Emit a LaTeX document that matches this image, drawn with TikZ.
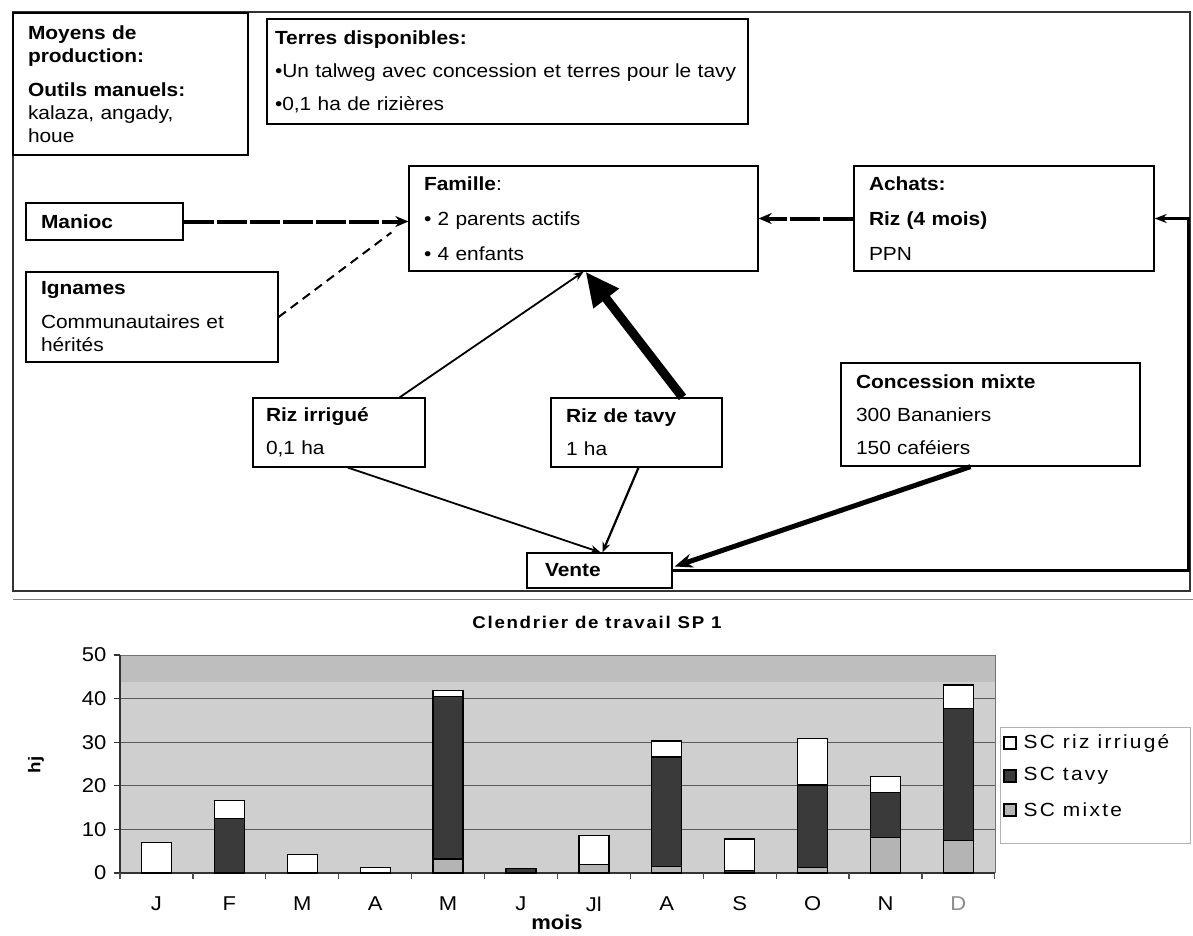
\documentclass[tikz,border=0pt]{standalone}
\usepackage{fontspec}
\setmainfont[FakeStretch=1.1]{Liberation Sans}
\usetikzlibrary{arrows.meta,calc}
\definecolor{tavy}{HTML}{3A3A3A}
\definecolor{mixte}{HTML}{B4B4B4}
\definecolor{fond}{HTML}{CFCFCF}
\definecolor{bande}{HTML}{BEBEBE}

\begin{document}
\begin{tikzpicture}[
    x=1pt, y=-1pt,
    font=\fontsize{19}{23}\selectfont,
    box/.style={draw, line width=1.3pt, align=left, inner xsep=15pt, inner ysep=0pt},
    flow/.style={-{Stealth[length=10pt, width=8pt]}, line width=1.8pt},
    flowdash/.style={-{Stealth[length=13pt, width=11pt]}, line width=4pt, dash pattern=on 30pt off 3pt},
    bar/.style={draw=black, line width=1.3pt},
    ticklabel/.style={font=\fontsize{20}{24}\selectfont},
    legendtext/.style={font=\fontsize{19}{23}\selectfont\addfontfeature{LetterSpace=12}, anchor=west}
]
\useasboundingbox (0,0) rectangle (1193,935);
\fill[white] (0,0) rectangle (1193,935);

% cadre du schema
\draw[line width=2pt, black!80] (13,12) rectangle (1190,591);
\draw[line width=1pt, black!50] (13,599) -- (1193,599);

\node[box, text width=205, minimum height=142] (moyens) at (130.5,84)
  {\textbf{Moyens de}\\\textbf{production:}\\[11pt]\textbf{Outils manuels:}\\kalaza, angady,\\houe};
\node[box, text width=465, inner xsep=8pt, minimum height=105] (terres) at (507.5,71.5)
  {\textbf{Terres disponibles:}\\[10pt]•Un talweg avec concession et terres pour le tavy\\[10pt]•0,1 ha de rizières};
\node[box, text width=127, minimum height=37] (manioc) at (104.5,221.5) {\textbf{Manioc}};
\node[box, text width=222, minimum height=90] (ignames) at (152,317)
  {\textbf{Ignames}\\[11pt]Communautaires et\\hérités};
\node[box, text width=319, minimum height=105] (famille) at (583.5,218.5)
  {\textbf{Famille}:\\[12pt]• 2 parents actifs\\[12pt]• 4 enfants};
\node[box, text width=270, minimum height=105] (achats) at (1004,218.5)
  {\textbf{Achats:}\\[12pt]\textbf{Riz (4 mois)}\\[12pt]PPN};
\node[box, text width=146, inner xsep=13pt, minimum height=69] (rizirr) at (339,432.5)
  {\textbf{Riz irrigué}\\[10pt]0,1 ha};
\node[box, text width=141, minimum height=69] (riztavy) at (636.5,432.5)
  {\textbf{Riz de tavy}\\[10pt]1 ha};
\node[box, text width=269, minimum height=103] (concession) at (990.5,414.5)
  {\textbf{Concession mixte}\\[10pt]300 Bananiers\\[10pt]150 caféiers};
\node[box, text width=109, inner xsep=18pt, minimum height=35] (vente) at (599.5,570.5) {\textbf{Vente}};

% flux
\draw[flowdash] (manioc.east) -- (manioc.east -| famille.west);
\draw[flowdash] (achats.west) -- (famille.east);
\draw[line width=2pt, dash pattern=on 9pt off 6pt] (ignames.east) -- ($(famille.west)+(-17,14)$);
\draw[flow] ($(rizirr.north west)!0.85!(rizirr.north east)$) -- (famille.south);
\draw[-{Triangle[length=34pt, width=30pt]}, line width=9pt] ($(riztavy.north)+(46,0)$) -- ($(famille.south)+(2,0)$);
\draw[flow] ($(rizirr.south)+(9,0)$) -- ($(vente.north)+(1,0)$);
\draw[flow, line width=2.2pt] ($(riztavy.south)+(2,0)$) -- ($(vente.north)+(3,0)$);
\draw[-{Stealth[length=18pt, width=14pt]}, line width=5pt] ($(concession.south)+(-20,0)$) -- ($(vente.east)+(2,-4)$);
\draw[-{Stealth[length=12pt, width=9pt]}, line width=3.5pt] (vente.east) -| ($(achats.east)+(34,0)$) -- (achats.east);

% calendrier de travail
\node[font=\bfseries\fontsize{17}{20}\selectfont\addfontfeature{LetterSpace=10}] (titre) at (597,622) {Clendrier de travail SP 1};
\node[rotate=90, font=\bfseries\fontsize{17}{20}\selectfont] (hj) at (36,765) {hj};
\node[font=\bfseries\fontsize{20}{24}\selectfont] (mois) at (557,922) {mois};

\begin{scope}[shift={(120,873)}, yscale=-4.36]
  \fill[fond] (0,0) rectangle (875,50);
  \fill[bande] (0,43.7) rectangle (875,50);
  \foreach \v in {10,20,30,40}
    \draw[line width=1.2pt, black!65] (0,\v) -- (875,\v);
  \draw[line width=1pt, black!55] (0,50) -- (875,50) -- (875,0);
  \draw[line width=1.4pt, black!80] (0,50) -- (0,0) -- (875,0);
  \foreach \v in {0,10,...,50} {
    \draw[line width=1.2pt, black!80] (-6,\v) -- (0,\v);
    \node[ticklabel, anchor=east] (y\v) at (-10,\v) {\v};
  }
  \foreach \i in {0,...,12}
    \draw[line width=1.2pt, black!70] ({\i*72.9},0) -- ({\i*72.9},-1.4);
  \foreach \i/\a/\b/\c in {1/0/0/7, 2/0/12.5/4.2, 3/0/0/4.2, 4/0/0/1.3, 5/3.2/37.3/1.3, 6/0/1/0,
      7/2/0/6.6, 8/1.5/25.1/3.7, 9/0/0.6/7.2, 10/1.2/19/10.6, 11/8.2/10.2/3.8, 12/7.4/30.4/5.3} {
    \pgfmathsetmacro\xl{(\i-0.5)*72.9-15}
    \pgfmathsetmacro\xr{\xl+30}
    \pgfmathsetmacro\ab{\a+\b}
    \pgfmathsetmacro\abc{\a+\b+\c}
    \ifdim\a pt>0pt \draw[bar, fill=mixte] (\xl,0) rectangle (\xr,\a); \fi
    \ifdim\b pt>0pt \draw[bar, fill=tavy] (\xl,\a) rectangle (\xr,\ab); \fi
    \ifdim\c pt>0pt \draw[bar, fill=white] (\xl,\ab) rectangle (\xr,\abc); \fi
  }
  \foreach \i/\m in {1/J, 2/F, 3/M, 4/A, 5/M, 6/J, 7/Jl, 8/A, 9/S, 10/O, 11/N}
    \node[ticklabel] (m\i) at ({(\i-0.5)*72.9},-7.1) {\m};
  \node[ticklabel, text=black!45] (m12) at ({11.5*72.9},-7.1) {D};
\end{scope}

% legende
\draw[line width=1pt, black!30, fill=white] (1000,727) rectangle (1190,843);
\foreach \y/\col/\txt in {743/white/SC riz irriugé, 776/tavy/SC tavy, 810/mixte/SC mixte} {
  \draw[line width=1.3pt, fill=\col] (1004,\y-6) rectangle (1016,\y+6);
  \node[legendtext] (leg\y) at (1020,\y) {\txt};
}
\end{tikzpicture}
\end{document}
